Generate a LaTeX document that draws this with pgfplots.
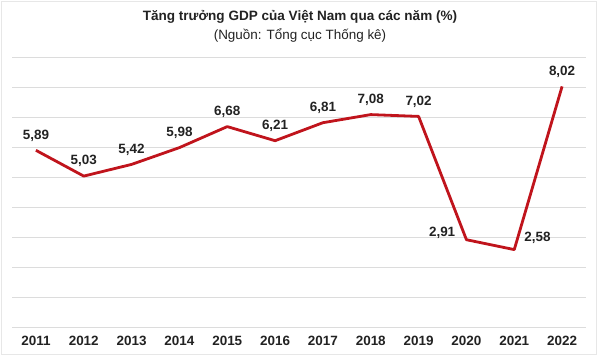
\documentclass[border=0pt]{standalone}
\usepackage{fontspec}
\setmainfont{Liberation Sans}
\usepackage{pgfplots}
\pgfplotsset{compat=1.18}
\usepackage{pgfplotstable}
\definecolor{linered}{HTML}{C0141C}
\definecolor{gridgray}{HTML}{DCDCDC}
\definecolor{txt}{HTML}{222222}
\pgfplotstableread{
year val
2011 5.89
2012 5.03
2013 5.42
2014 5.98
2015 6.68
2016 6.21
2017 6.81
2018 7.08
2019 7.02
2020 2.91
2021 2.58
2022 8.02
}\gdpdata
\pgfplotstableread{
year val
2011 5.89
2012 5.03
2013 5.42
2014 5.98
2015 6.68
2016 6.21
2017 6.81
2018 7.08
2019 7.02
2022 8.02
}\abovedata
\pgfplotstableread{
year val
2020 2.91
}\leftdata
\pgfplotstableread{
year val
2021 2.58
}\rightdata
\begin{document}
\begin{tikzpicture}[x=1bp,y=1bp]
\path[use as bounding box] (0,0) rectangle (600,356);
\draw[gridgray!70, line width=0.8bp] (1,2) rectangle (596,355);
\node[txt, font=\bfseries\fontsize{13.6}{16}\selectfont] at (300,339) {Tăng trưởng GDP của Việt Nam qua các năm (\%)};
\node[txt, font=\fontsize{13.5}{16}\selectfont] at (300,321) {(Nguồn: Tổng cục Thống kê)};
\begin{axis}[
  at={(12bp,29bp)}, anchor=origin,
  scale only axis, width=574bp, height=270bp,
  xmin=2010.5, xmax=2022.5, ymin=0, ymax=9,
  axis lines=none,
  clip=false,
  ytick={0,...,9},
  xtick={2011,...,2022},
  xticklabels={2011,2012,2013,2014,2015,2016,2017,2018,2019,2020,2021,2022},
  nodes near coords={\pgfmathprintnumber[fixed,precision=2,fixed zerofill,use comma,assume math mode=true]{\pgfplotspointmeta}},
  every node near coord/.append style={font=\bfseries\fontsize{13.5}{15}\selectfont, text=txt, inner sep=0pt},
]
\foreach \g in {0,...,9} {
  \edef\tmp{\noexpand\draw[gridgray, line width=0.9bp] (axis cs:2010.5,\g) -- (axis cs:2022.5,\g);}
  \tmp
}
\foreach \yr in {2011,...,2022} {
  \edef\tmp{\noexpand\node[txt, font=\noexpand\bfseries\noexpand\fontsize{13.5}{15}\noexpand\selectfont] at (axis cs:\yr,0) [yshift=-14bp] {\yr};}
  \tmp
}
\addplot[linered, line width=2.8bp, line join=round, mark=none, nodes near coords={}] table[x=year,y=val] {\gdpdata};
\addplot[draw=none, mark=none, every node near coord/.append style={anchor=south, yshift=9bp}] table[x=year,y=val] {\abovedata};
\addplot[draw=none, mark=none, every node near coord/.append style={anchor=east, xshift=-11bp, yshift=7bp}] table[x=year,y=val] {\leftdata};
\addplot[draw=none, mark=none, every node near coord/.append style={anchor=west, xshift=10bp, yshift=12bp}] table[x=year,y=val] {\rightdata};
\end{axis}
\end{tikzpicture}
\end{document}
